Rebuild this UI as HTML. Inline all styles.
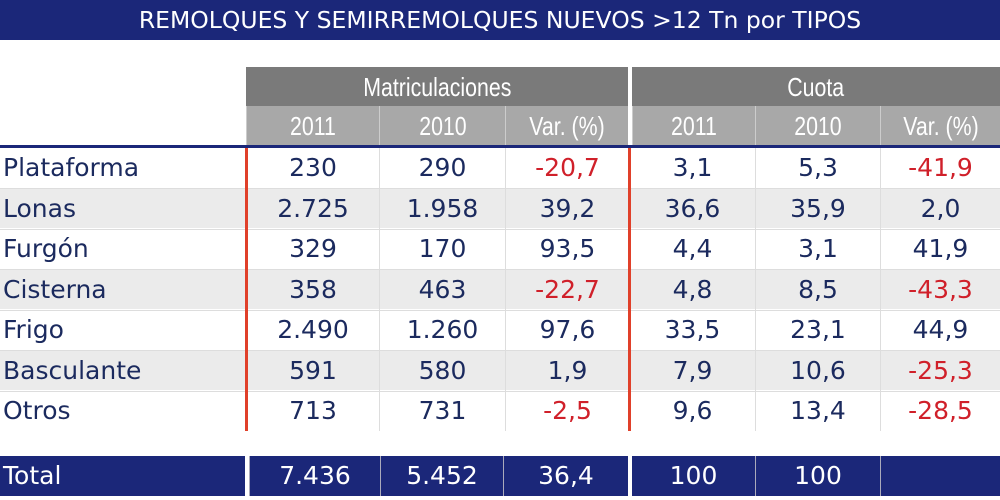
<!DOCTYPE html>
<html><head><meta charset="utf-8"><style>
body{margin:0;width:1000px;height:500px;background:#fff;position:relative;overflow:hidden;font-family:"DejaVu Sans","Liberation Sans",sans-serif}
.a{position:absolute;box-sizing:border-box}
.t{left:0;top:0;width:1000px;height:40px;background:#1b2779;color:#fff;font-size:23.5px;line-height:40px;text-align:center}
.h1{background:#7a7a7a;color:#fff;font-family:"Liberation Sans",sans-serif;font-size:26px;line-height:40px;text-align:center;top:67px;height:39px}
.h2{background:#a8a8a8;color:#fff;font-family:"Liberation Sans",sans-serif;font-size:26px;line-height:40px;text-align:center;top:106px;height:40px;border-left:1px solid #ccc}
.n{display:inline-block;transform:scaleX(0.82)}
.c{font-size:25px;color:#1b2a5e;text-align:center;line-height:40px;height:40px;border-left:1px solid #ddd}
.l{font-size:25px;color:#1b2a5e;line-height:40px;height:40px;left:3px}
.r{color:#d0202a}
.g{background:#ebebeb;left:0;width:1000px;height:40px}
.tot{top:456px;height:40px;background:#1b2779;color:#fff;font-size:25px;line-height:40px;text-align:center;border-left:1px solid #aab}
</style></head><body>
<div class="a t">REMOLQUES Y SEMIRREMOLQUES NUEVOS &gt;12 Tn por TIPOS</div>
<div class="a h1" style="left:246px;width:382px"><span class="n">Matriculaciones</span></div>
<div class="a h1" style="left:632px;width:368px"><span class="n">Cuota</span></div>
<div class="a h2" style="left:246px;width:133px"><span class="n">2011</span></div>
<div class="a h2" style="left:379px;width:126px"><span class="n">2010</span></div>
<div class="a h2" style="left:505px;width:123px"><span class="n">Var. (%)</span></div>
<div class="a h2" style="left:632px;width:123px"><span class="n">2011</span></div>
<div class="a h2" style="left:755px;width:125px"><span class="n">2010</span></div>
<div class="a h2" style="left:880px;width:120px"><span class="n">Var. (%)</span></div>
<div class="a" style="left:0;top:145px;width:1000px;height:3px;background:#1b2779"></div>
<div class="a g" style="top:188px"></div>
<div class="a g" style="top:269px"></div>
<div class="a g" style="top:350px"></div>
<div id="rows"></div>
<script>
var d=[["Plataforma","230","290","-20,7","3,1","5,3","-41,9"],["Lonas","2.725","1.958","39,2","36,6","35,9","2,0"],["Furgón","329","170","93,5","4,4","3,1","41,9"],["Cisterna","358","463","-22,7","4,8","8,5","-43,3"],["Frigo","2.490","1.260","97,6","33,5","23,1","44,9"],["Basculante","591","580","1,9","7,9","10,6","-25,3"],["Otros","713","731","-2,5","9,6","13,4","-28,5"]];
var cx=[[246,133],[379,126],[505,124],[629,126],[755,125],[880,120]];
var h="";
d.forEach(function(r,i){var y=148+i*40.5;
h+='<div class="a l" style="top:'+y+'px">'+r[0]+'</div>';
for(var j=0;j<6;j++){var v=r[j+1];h+='<div class="a c'+(v[0]=="-"?" r":"")+'" style="top:'+y+'px;left:'+cx[j][0]+'px;width:'+cx[j][1]+'px">'+v+'</div>';}
if(i<6)h+='<div class="a" style="left:0;width:1000px;height:1px;background:#ddd;top:'+(y+40)+'px"></div>';});
document.getElementById("rows").innerHTML=h;
</script>
<div class="a" style="left:245px;top:148px;width:3px;height:283px;background:#e0402a"></div>
<div class="a" style="left:628px;top:148px;width:3px;height:283px;background:#e0402a"></div>
<div class="a tot" style="left:0;width:245px;text-align:left;padding-left:3px;border:none">Total</div>
<div class="a tot" style="left:249px;width:131px">7.436</div>
<div class="a tot" style="left:380px;width:123px">5.452</div>
<div class="a tot" style="left:503px;width:125px">36,4</div>
<div class="a tot" style="left:632px;width:123px;border:none">100</div>
<div class="a tot" style="left:755px;width:125px">100</div>
<div class="a tot" style="left:880px;width:120px"></div>
</body></html>
